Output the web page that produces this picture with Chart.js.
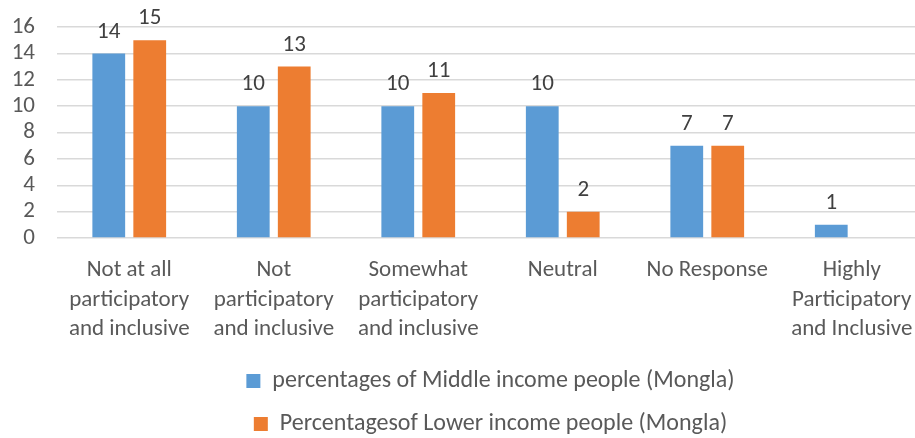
<!DOCTYPE html>
<html>
<head>
<meta charset="utf-8">
<script src="https://cdn.jsdelivr.net/npm/chart.js@4.4.0/dist/chart.umd.min.js"></script>
<style>
  html, body { margin: 0; padding: 0; background: #fff; overflow: hidden; }
  #wrap { width: 915px; height: 438px; overflow: hidden; }
</style>
</head>
<body>
<div id="wrap"><canvas id="chart" width="925" height="438"></canvas></div>
<script>
// chart values
const categories = [
    ['Not at all', 'participatory', 'and inclusive'],
    ['Not', 'participatory', 'and inclusive'],
    ['Somewhat', 'participatory', 'and inclusive'],
    'Neutral',
    'No Response',
    ['Highly', 'Participatory', 'and Inclusive']
];
const middleIncome = [14, 10, 10, 10, 7, 1];
const lowerIncome = [15, 13, 11, 2, 7, null];
const yTicks = [0, 2, 4, 6, 8, 10, 12, 14, 16];

const FONT = 'Carlito, "Liberation Sans", Arial, sans-serif';
const TEXT = '#595959';

// draws the value above each bar
const barLabels = {
    id: 'barLabels',
    afterDatasetsDraw(chart) {
        const ctx = chart.ctx;
        ctx.save();
        ctx.font = `23px ${FONT}`;
        ctx.fillStyle = '#404040';
        ctx.textAlign = 'center';
        ctx.textBaseline = 'bottom';
        chart.data.datasets.forEach((ds, i) => {
            chart.getDatasetMeta(i).data.forEach((bar, j) => {
                const v = ds.data[j];
                if (v === null || v === undefined) return;
                ctx.fillText(String(v), bar.x, bar.y - 10);
            });
        });
        ctx.restore();
    }
};

new Chart(document.getElementById('chart'), {
    type: 'bar',
    data: {
        labels: categories,
        datasets: [
            {
                label: 'percentages of Middle income people (Mongla)',
                data: middleIncome,
                backgroundColor: '#5B9BD5'
            },
            {
                label: 'Percentagesof Lower income people (Mongla)',
                data: lowerIncome,
                backgroundColor: '#ED7D31'
            }
        ]
    },
    options: {
        responsive: false,
        animation: false,
        devicePixelRatio: 1,
        layout: { padding: { top: 27, right: 1, left: 0, bottom: -8 } },
        datasets: {
            bar: { categoryPercentage: 0.567, barPercentage: 0.8 }
        },
        scales: {
            x: {
                grid: { display: false },
                border: { display: false },
                ticks: {
                    color: TEXT,
                    font: { family: FONT, size: 23, lineHeight: 1.28 },
                    maxRotation: 0,
                    autoSkip: false,
                    padding: 10
                },
                afterFit(scale) {
                    scale.height = 112;
                    scale.paddingLeft = 0;
                    scale.paddingRight = 0;
                }
            },
            y: {
                min: 0,
                max: 16,
                afterBuildTicks(scale) { scale.ticks = yTicks.map(v => ({ value: v })); },
                grid: { color: '#d9d9d9', lineWidth: 1.5, drawTicks: false },
                border: { display: false },
                ticks: {
                    color: TEXT,
                    font: { family: FONT, size: 23 },
                    autoSkip: false,
                    padding: 22
                },
                afterFit(scale) {
                    scale.width = 57;
                    scale.paddingTop = 0;
                    scale.paddingBottom = 0;
                }
            }
        },
        plugins: {
            legend: {
                position: 'bottom',
                fullSize: false,
                labels: {
                    color: TEXT,
                    font: { family: FONT, size: 24 },
                    boxWidth: 14,
                    boxHeight: 14,
                    padding: 19
                }
            },
            tooltip: { enabled: false }
        }
    },
    plugins: [barLabels]
});
</script>
</body>
</html>
